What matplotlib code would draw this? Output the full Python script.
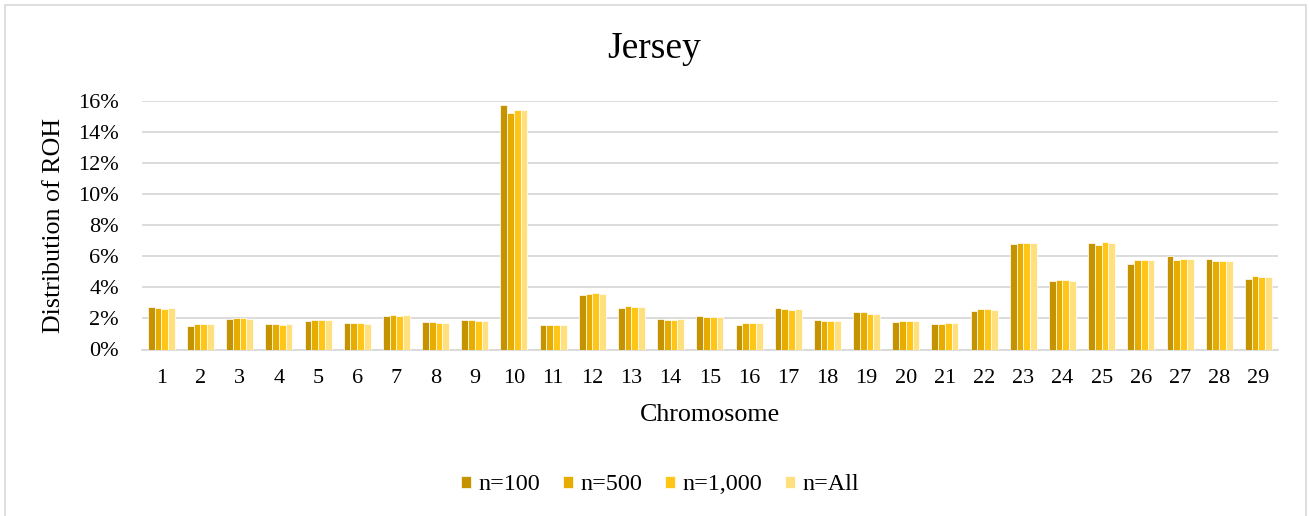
import numpy as np
import matplotlib
matplotlib.use("Agg")
import matplotlib.pyplot as plt
from matplotlib.patches import Rectangle
from matplotlib.ticker import PercentFormatter

plt.rcParams["font.family"] = ["Liberation Serif", "DejaVu Serif"]

chromosomes = [str(i) for i in range(1, 30)]
series_names = ["n=100", "n=500", "n=1,000", "n=All"]

n100 = [2.72, 1.53, 1.96, 1.62, 1.85, 1.69, 2.16, 1.77, 1.90, 15.74,
        1.58, 3.51, 2.69, 1.94, 2.16, 1.60, 2.65, 1.90, 2.43, 1.75,
        1.66, 2.46, 6.81, 4.41, 6.84, 5.51, 6.00, 5.83, 4.52]
n500 = [2.67, 1.62, 2.01, 1.62, 1.90, 1.69, 2.20, 1.75, 1.90, 15.23,
        1.56, 3.57, 2.80, 1.92, 2.11, 1.73, 2.59, 1.82, 2.41, 1.84,
        1.66, 2.59, 6.86, 4.46, 6.73, 5.78, 5.76, 5.68, 4.75]
n1000 = [2.63, 1.64, 2.01, 1.58, 1.90, 1.69, 2.16, 1.71, 1.84, 15.42,
         1.56, 3.62, 2.74, 1.92, 2.07, 1.69, 2.56, 1.82, 2.27, 1.84,
         1.69, 2.59, 6.86, 4.46, 6.92, 5.76, 5.85, 5.70, 4.69]
nall = [2.67, 1.64, 1.98, 1.62, 1.90, 1.66, 2.20, 1.71, 1.84, 15.42,
        1.58, 3.57, 2.74, 1.94, 2.07, 1.69, 2.59, 1.84, 2.31, 1.84,
        1.69, 2.56, 6.84, 4.41, 6.88, 5.74, 5.85, 5.70, 4.67]

colors = ["#C59300", "#E6AD00", "#FFC617", "#FFE07F"]
grid_color = "#D9D9D9"
tick_fs = 16
label_fs = 18.7
legend_fs = 17.4

W, H = 1309, 516
fig = plt.figure(figsize=(W / 100, H / 100), dpi=100)
fig.patch.set_facecolor("white")

# outer chart frame
fig.add_artist(Rectangle((5 / W, -0.05), (1306 - 5) / W, 1.05 - 5 / H,
                         transform=fig.transFigure, fill=False,
                         edgecolor=grid_color, linewidth=1.2))

left, right = 141.7 / W, 1278 / W
bottom, top = 1 - 349.5 / H, 1 - 101 / H
ax = fig.add_axes([left, bottom, right - left, top - bottom])

x = np.arange(len(chromosomes))
bw = 0.69 / 4
for i, (vals, c, name) in enumerate(zip([n100, n500, n1000, nall], colors, series_names)):
    ax.bar(x + (i - 1.5) * bw, np.array(vals) / 100, width=bw, color=c,
           edgecolor="white", linewidth=0.5, label=name, zorder=3)

ax.set_xlim(-0.5, len(chromosomes) - 0.5)
ax.set_ylim(0, 0.16)
ax.set_yticks(np.arange(0, 0.161, 0.02))
ax.yaxis.set_major_formatter(PercentFormatter(1.0, decimals=0))
ax.set_xticks(x)
ax.set_xticklabels(chromosomes)
ax.grid(axis="y", color=grid_color, linewidth=1.3, zorder=0)
ax.set_axisbelow(True)
for s in ["top", "right", "left"]:
    ax.spines[s].set_visible(False)
ax.spines["bottom"].set_color(grid_color)
ax.spines["bottom"].set_linewidth(1.3)
ax.tick_params(axis="both", length=0, labelsize=tick_fs, colors="black")
ax.tick_params(axis="x", pad=14)
ax.tick_params(axis="y", pad=16.5)

ax.set_ylabel("Distribution of ROH", fontsize=label_fs, va="center")
ax.yaxis.set_label_coords((54 - 141.7) / (1278 - 141.7), 0.5)
ax.set_xlabel("Chromosome", fontsize=label_fs, va="center")
ax.xaxis.set_label_coords(0.5, -(415 - 349.5) / (349.5 - 101))

fig.text(0.5, 1 - 58.5 / H, "Jersey", fontsize=27, ha="center", va="baseline")

fig.legend(loc="center", bbox_to_anchor=(660 / W, 1 - 485 / H), ncol=4,
           frameon=False, fontsize=legend_fs, handlelength=0.42, handleheight=0.42,
           handletextpad=0.3, columnspacing=0.95, borderpad=0)

fig.savefig("out.png", dpi=100, facecolor="white")
